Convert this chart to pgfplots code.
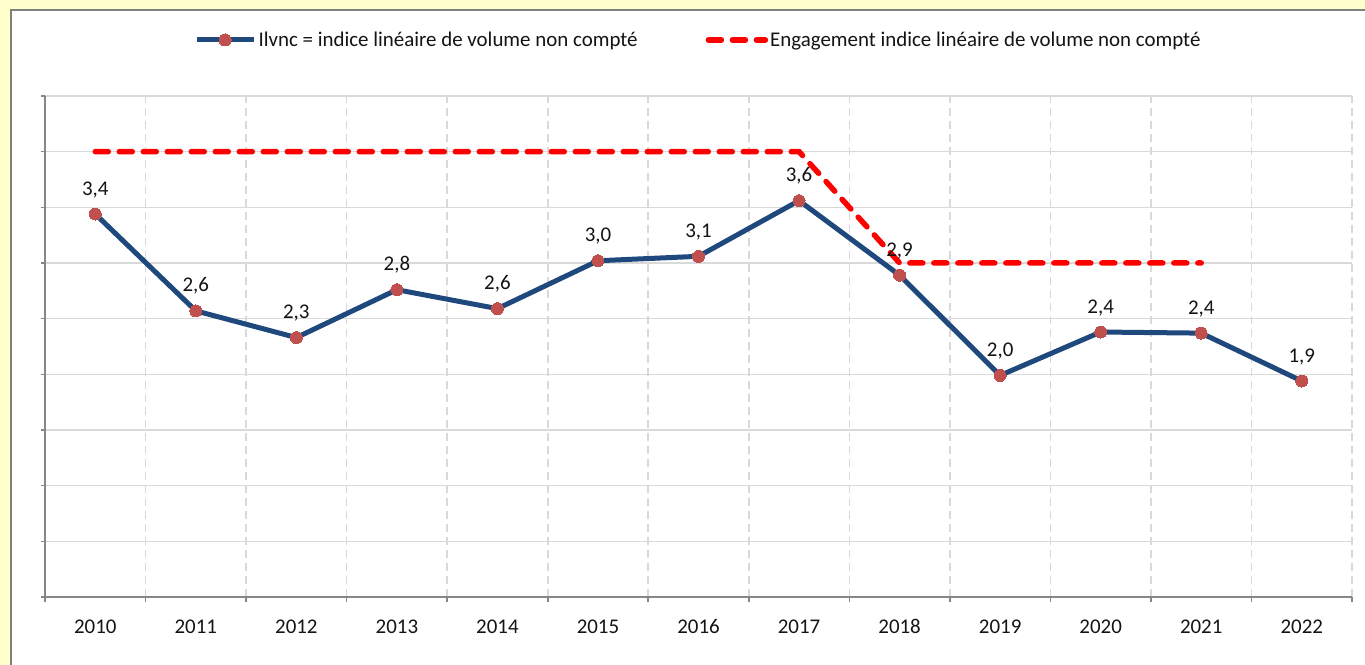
\documentclass[border=0pt]{standalone}
\usepackage{pgfplots}
\pgfplotsset{compat=1.18}
\usepackage{fontspec}
\setmainfont{Carlito}
\definecolor{bgyellow}{RGB}{255,255,204}
\definecolor{framegray}{RGB}{128,128,128}
\definecolor{gridgray}{RGB}{217,217,217}
\definecolor{axisgray}{RGB}{134,134,134}
\definecolor{lineblue}{RGB}{31,73,125}
\definecolor{markred}{RGB}{192,80,77}
\definecolor{txt}{RGB}{20,20,20}
\begin{document}
\begin{tikzpicture}[x=1bp,y=1bp]
\useasboundingbox (0,0) rectangle (1365,665);
\fill[bgyellow] (0,0) rectangle (1365,665);
\fill[white] (11,0) rectangle (1365,655);
\draw[framegray,line width=2bp] (11,0) -- (11,655) -- (1365,655);
\begin{axis}[
  at={(45bp,68bp)}, anchor=south west,
  scale only axis, width=1307bp, height=501bp,
  xmin=-0.5, xmax=12.5, ymin=0, ymax=4.5,
  axis x line=bottom, axis y line=left,
  axis line style={axisgray,line width=1.6bp,-},
  xtick={0,...,12},
  xticklabels={2010,2011,2012,2013,2014,2015,2016,2017,2018,2019,2020,2021,2022},
  major x tick style={draw=none},
  minor xtick={-0.5,0.5,...,12.5},
  minor x tick style={axisgray,line width=1.6bp},
  xminorgrids,
  minor x grid style={gridgray,line width=1.6bp,dash pattern=on 8bp off 5bp},
  ytick={0,0.5,...,4.5},
  yticklabels={},
  ymajorgrids,
  major grid style={gridgray,line width=1.6bp},
  y tick style={axisgray,line width=1.2bp},
  tick align=outside,
  major tick length=4bp, minor tick length=5bp,
  xticklabel style={font=\fontsize{21}{24}\selectfont, text=txt, yshift=-15bp},
  clip=false,
  legend columns=2,
  legend style={draw=none, fill=none, at={(0.5,1.1118)}, anchor=center,
    font=\fontsize{21}{24}\selectfont, text=txt,
    /tikz/every even column/.append style={column sep=66bp},
    /tikz/every odd column/.append style={column sep=0bp}},
  legend image code/.code={\draw[mark repeat=2,mark phase=2,#1] plot coordinates {(0bp,0bp)(28bp,0bp)(57bp,0bp)};},
]
\addplot[lineblue, line width=5bp, mark=*, mark size=6bp,
  mark options={solid, fill=markred, draw=markred, line width=0bp},
  nodes near coords,
  nodes near coords style={font=\fontsize{21}{24}\selectfont, text=txt, anchor=south, yshift=13bp,
    /pgf/number format/.cd, use comma, fixed, precision=1, fixed zerofill, assume math mode=true},
] coordinates {
(0,3.44) (1,2.57) (2,2.33) (3,2.76) (4,2.59) (5,3.02) (6,3.06) (7,3.56) (8,2.89) (9,1.99) (10,2.38) (11,2.37) (12,1.94)
};
\addlegendentry{Ilvnc = indice linéaire de volume non compté}
\addplot[red, line width=5.5bp, line cap=round, dash pattern=on 13bp off 11bp] coordinates {
(0,4) (1,4) (2,4) (3,4) (4,4) (5,4) (6,4) (7,4) (8,3) (9,3) (10,3) (11,3)
};
\addlegendentry{Engagement indice linéaire de volume non compté}
\end{axis}
\end{tikzpicture}
\end{document}
